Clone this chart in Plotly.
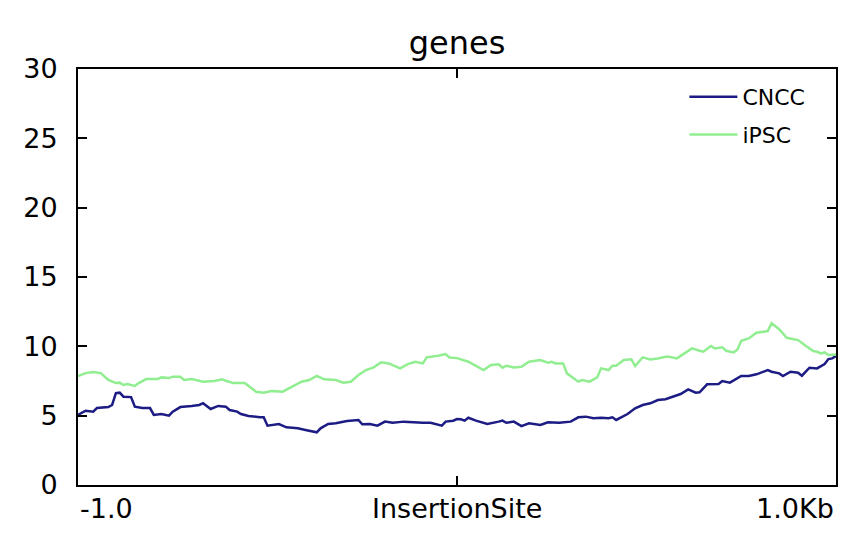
import plotly.graph_objects as go

# Positions in bp relative to the insertion site
cncc_pos = [-1000, -980, -960, -950, -920, -910, -900, -890, -880, -860, -850, -830, -810, -800,
            -780, -760, -750, -730, -700, -680, -670, -650, -630, -610, -600, -580, -570, -550,
            -520, -510, -500, -470, -450, -420, -400, -370, -360, -340, -320, -290, -260, -250,
            -230, -210, -190, -170, -140, -120, -90, -70, -40, -30, -10, 0, 10, 20, 30, 50, 80,
            110, 120, 130, 150, 170, 190, 220, 240, 270, 300, 320, 340, 360, 380, 400, 410, 420,
            450, 470, 490, 510, 530, 550, 580, 590, 610, 630, 640, 660, 690, 700, 720, 730, 750,
            770, 790, 820, 830, 850, 860, 880, 900, 910, 930, 950, 970, 980, 990, 1000]
cncc_val = [5.05, 5.36, 5.29, 5.55, 5.62, 5.77, 6.63, 6.66, 6.37, 6.34, 5.65, 5.55, 5.55, 5.05,
            5.12, 5.00, 5.29, 5.62, 5.70, 5.77, 5.90, 5.48, 5.70, 5.65, 5.41, 5.29, 5.12, 4.97,
            4.89, 4.88, 4.28, 4.40, 4.16, 4.09, 3.97, 3.80, 4.09, 4.40, 4.45, 4.61, 4.69, 4.38,
            4.40, 4.28, 4.57, 4.49, 4.57, 4.52, 4.49, 4.49, 4.28, 4.57, 4.64, 4.76, 4.74, 4.64,
            4.85, 4.64, 4.40, 4.57, 4.64, 4.49, 4.57, 4.25, 4.45, 4.33, 4.52, 4.49, 4.57, 4.88,
            4.93, 4.81, 4.85, 4.81, 4.88, 4.69, 5.12, 5.53, 5.77, 5.89, 6.13, 6.18, 6.49, 6.56,
            6.90, 6.66, 6.68, 7.26, 7.28, 7.50, 7.38, 7.52, 7.86, 7.86, 7.98, 8.29, 8.17, 8.05,
            7.86, 8.17, 8.10, 7.88, 8.46, 8.41, 8.72, 9.08, 9.13, 9.30]

ipsc_pos = [-1000, -980, -960, -940, -920, -900, -890, -880, -870, -850, -840, -820, -790, -780,
            -760, -750, -730, -720, -700, -670, -640, -620, -610, -590, -560, -550, -530, -510,
            -490, -460, -440, -410, -390, -370, -350, -320, -300, -280, -260, -240, -220, -200,
            -180, -150, -130, -110, -90, -80, -50, -30, -20, 0, 30, 50, 70, 90, 110, 120, 130,
            150, 170, 190, 210, 220, 240, 250, 260, 280, 290, 310, 320, 330, 350, 370, 380, 400,
            410, 420, 440, 460, 470, 490, 510, 530, 550, 560, 580, 600, 620, 640, 650, 670, 680,
            700, 710, 730, 740, 750, 770, 790, 810, 820, 830, 850, 870, 900, 920, 940, 950, 960,
            970, 980, 1000]
ipsc_val = [7.86, 8.07, 8.15, 8.07, 7.57, 7.35, 7.38, 7.21, 7.28, 7.14, 7.35, 7.64, 7.64, 7.76,
            7.71, 7.81, 7.81, 7.57, 7.64, 7.45, 7.50, 7.62, 7.52, 7.35, 7.35, 7.14, 6.73, 6.66,
            6.78, 6.73, 7.04, 7.45, 7.57, 7.86, 7.62, 7.57, 7.38, 7.45, 7.93, 8.29, 8.48, 8.85,
            8.77, 8.41, 8.72, 8.89, 8.77, 9.21, 9.32, 9.44, 9.20, 9.15, 8.89, 8.58, 8.29, 8.65,
            8.70, 8.46, 8.60, 8.48, 8.53, 8.89, 8.96, 9.01, 8.82, 8.89, 8.77, 8.77, 8.05, 7.64,
            7.45, 7.57, 7.45, 7.76, 8.41, 8.29, 8.60, 8.60, 9.01, 9.06, 8.58, 9.21, 9.06, 9.13,
            9.25, 9.25, 9.13, 9.49, 9.85, 9.68, 9.61, 10.02, 9.85, 9.93, 9.68, 9.56, 9.78, 10.40,
            10.57, 10.98, 11.05, 11.10, 11.66, 11.23, 10.62, 10.45, 10.04, 9.66, 9.61, 9.49, 9.56,
            9.37, 9.42]

x_tickvals = [-1000, 0, 1000]
x_ticklabels = ["-1.0", "InsertionSite", "1.0Kb"]
y_tickvals = [0, 5, 10, 15, 20, 25, 30]

FONT = "DejaVu Sans"
W, H = 858, 543  # page body adds an 8px margin

fig = go.Figure()
fig.add_trace(go.Scatter(x=cncc_pos, y=cncc_val, mode="lines", name="CNCC", legendgroup="a",
                         line=dict(color="#1c1c84", width=2.5)))
fig.add_trace(go.Scatter(x=ipsc_pos, y=ipsc_val, mode="lines", name="iPSC", legendgroup="b",
                         line=dict(color="#90ee90", width=2.5)))

anchors = ["left", "center", "right"]
for val, txt, anc in zip(x_tickvals, x_ticklabels, anchors):
    fig.add_annotation(x=val, y=0, xref="x", yref="paper", text=txt, showarrow=False,
                       xanchor=anc, yanchor="top", yshift=-6,
                       font=dict(family=FONT, size=27, color="black"))

fig.update_layout(
    width=W, height=H,
    margin=dict(l=70, r=30, t=61, b=66),
    paper_bgcolor="white", plot_bgcolor="white",
    font=dict(family=FONT, size=26, color="black"),
    title=dict(text="genes", x=0.5, xref="paper", y=1 - 35 / H, yref="container",
               xanchor="center", yanchor="middle", font=dict(family=FONT, size=32)),
    showlegend=True,
    legend=dict(x=0.800, y=0.983, xanchor="left", yanchor="top", bgcolor="rgba(0,0,0,0)",
                font=dict(family=FONT, size=22), borderwidth=0, tracegroupgap=6,
                itemwidth=48),
)
fig.update_xaxes(range=[-1000, 1000], tickvals=x_tickvals, ticktext=["", "", ""],
                 ticks="inside", ticklen=9, tickwidth=1.5, tickcolor="black",
                 showline=True, linecolor="black", linewidth=2, mirror="ticks",
                 showgrid=False, zeroline=False)
fig.update_yaxes(range=[0, 30], tickvals=y_tickvals,
                 ticks="inside", ticklen=9, tickwidth=1.5, tickcolor="black",
                 showline=True, linecolor="black", linewidth=2, mirror="ticks",
                 showgrid=False, zeroline=False, ticklabelstandoff=13,
                 tickfont=dict(family=FONT, size=27))

fig.write_html("out.html")
